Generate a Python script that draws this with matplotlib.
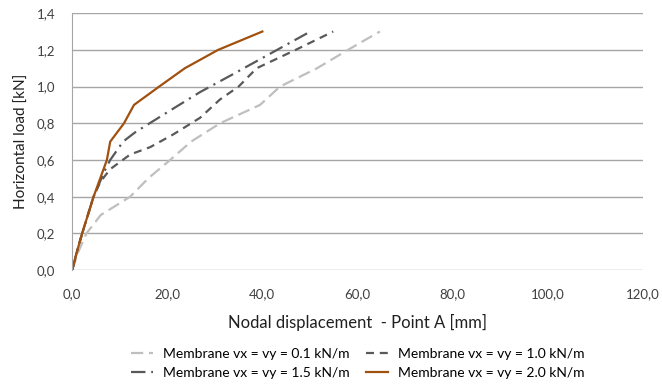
import matplotlib
matplotlib.use('Agg')
import matplotlib.pyplot as plt

plt.rcParams['font.family'] = ['Lato', 'DejaVu Sans']

# data
x_01 = [0, 1.3, 3.0, 6.0, 12.2, 16.0, 20.6, 25.0, 31.1, 39.5, 43.7, 51.5, 58.0, 64.7]
y_01 = [0, 0.1, 0.2, 0.3, 0.4, 0.5, 0.6, 0.7, 0.8, 0.9, 1.0, 1.1, 1.2, 1.3]

x_10 = [0, 1.0, 2.1, 4.5, 5.9, 8.0, 12.2, 16.4, 21.3, 26.9, 31.1, 35.0, 38.8, 47.0, 54.9]
y_10 = [0, 0.1, 0.2, 0.4, 0.48, 0.55, 0.63, 0.67, 0.74, 0.83, 0.93, 1.0, 1.1, 1.2, 1.3]

x_15 = [0, 1.0, 2.1, 4.5, 7.0, 8.0, 10.7, 13.2, 20.0, 26.9, 34.0, 41.0, 49.4]
y_15 = [0, 0.1, 0.2, 0.4, 0.55, 0.6, 0.7, 0.75, 0.86, 0.97, 1.07, 1.17, 1.29]

x_20 = [0, 1.0, 2.1, 4.5, 7.3, 8.0, 10.9, 13.0, 18.3, 23.7, 30.7, 40.0]
y_20 = [0, 0.1, 0.2, 0.4, 0.6, 0.7, 0.8, 0.9, 1.0, 1.1, 1.2, 1.3]

xticks = [0, 20, 40, 60, 80, 100, 120]
yticks = [0, 0.2, 0.4, 0.6, 0.8, 1.0, 1.2, 1.4]

fig = plt.figure(figsize=(6.62, 3.87), dpi=100)
ax = fig.add_axes([0.109, 0.302, 0.862, 0.664])

l01, = ax.plot(x_01, y_01, color='#BFBFBF', lw=1.6, dashes=(5.5, 2.6),
               label='Membrane vx = vy = 0.1 kN/m')
l10, = ax.plot(x_10, y_10, color='#595959', lw=1.6, dashes=(3.6, 2.6),
               label='Membrane vx = vy = 1.0 kN/m')
l15, = ax.plot(x_15, y_15, color='#595959', lw=1.6, dashes=(6.5, 2.6, 1.0, 2.6),
               label='Membrane vx = vy = 1.5 kN/m')
l20, = ax.plot(x_20, y_20, color='#A0500F', lw=1.6,
               label='Membrane vx = vy = 2.0 kN/m')

ax.set_xlim(0, 120)
ax.set_ylim(0, 1.4)
ax.set_xticks(xticks)
ax.set_yticks(yticks)
ax.set_xticklabels([f'{v:.1f}'.replace('.', ',') for v in xticks])
ax.set_yticklabels([f'{v:.1f}'.replace('.', ',') for v in yticks])
ax.tick_params(length=0, labelsize=9.5, colors='#404040')
ax.tick_params(axis='x', pad=13)
ax.tick_params(axis='y', pad=12)

ax.grid(axis='y', color='#A6A6A6', lw=1.0)
ax.set_axisbelow(True)
for s in ['top', 'right', 'bottom']:
    ax.spines[s].set_visible(False)
ax.spines['left'].set_color('#A6A6A6')

ax.set_xlabel('Nodal displacement  - Point A [mm]', fontsize=12, labelpad=10, color='#202020')
ax.set_ylabel('Horizontal load [kN]', fontsize=11, labelpad=6, color='#202020')

# row-wise order like the reference: 0.1 | 1.0 / 1.5 | 2.0
ax.legend([l01, l15, l10, l20], [l.get_label() for l in (l01, l15, l10, l20)],
          loc='upper center', bbox_to_anchor=(0.5, -0.255), ncol=2, frameon=False,
          fontsize=10, handlelength=1.6, handletextpad=0.7, columnspacing=1.2,
          labelspacing=0.5)

fig.savefig('out.png', dpi=100, facecolor='white')
